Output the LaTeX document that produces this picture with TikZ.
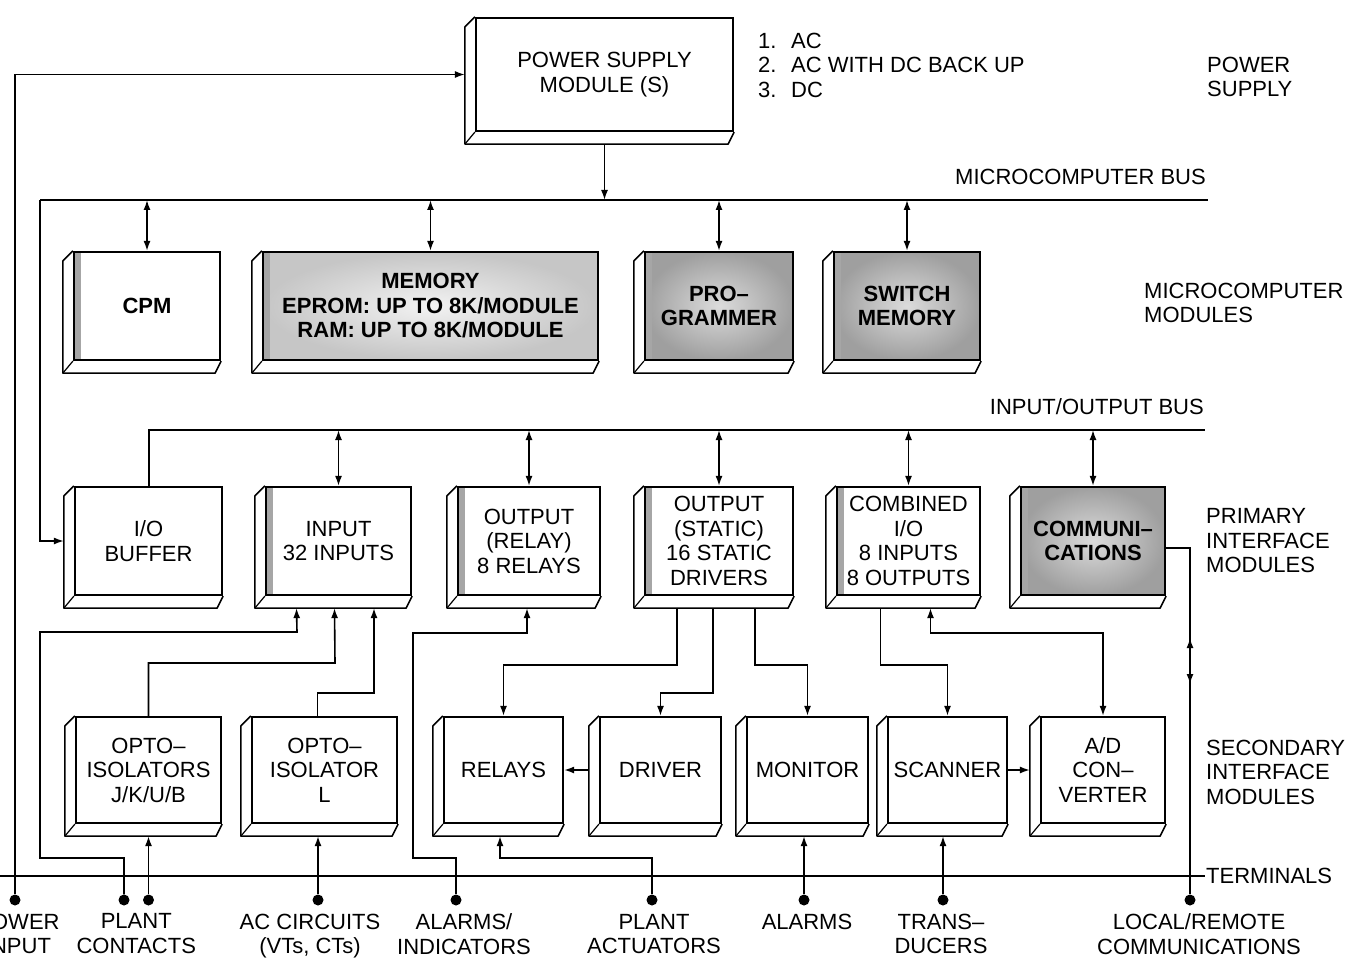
\documentclass[tikz,border=0pt]{standalone}
\usepackage{fontspec}
\setmainfont{Liberation Sans}
\usetikzlibrary{arrows.meta,calc,positioning}

\begin{document}
\begin{tikzpicture}[
    x=1pt, y=-1pt,
    >={Latex[length=10pt,width=7pt]},
    every node/.style={font=\fontsize{22}{24.5}\selectfont},
    slab/.style={rectangle, draw, line width=2.2pt, inner sep=0pt, align=center, fill=white},
    rowmc/.style={slab, minimum height=108pt, font=\fontsize{22}{24.5}\selectfont\bfseries},
    rowpi/.style={slab, minimum height=108pt},
    rowsi/.style={slab, minimum height=106pt},
    leftstrip/.style={path picture={\fill[gray!70] (path picture bounding box.south west) rectangle ([xshift=7pt]path picture bounding box.north west);}},
    shademid/.style={inner color=gray!10, outer color=gray!45},
    shadedark/.style={inner color=gray!28, outer color=gray!75},
    wire/.style={line width=1.6pt},
    bus/.style={line width=2pt},
    term/.style={circle, fill, inner sep=0pt, minimum size=11pt},
    lbl/.style={align=left, inner sep=1pt},
    tlbl/.style={align=center, inner sep=0pt}
  ]
    \useasboundingbox (0,0) rectangle (1355,960);

    % power supply
    \node[slab, minimum width=257pt, minimum height=113pt] (psm) at (604.5,74.5) {POWER SUPPLY\\MODULE (S)};

    % microcomputer modules
    \node[rowmc, leftstrip, minimum width=146pt] (cpm) at (147,306) {CPM};
    \node[rowmc, shademid, leftstrip, minimum width=335pt] (mem) at (430.5,306) {MEMORY\\EPROM: UP TO 8K/MODULE\\RAM: UP TO 8K/MODULE};
    \node[rowmc, shadedark, leftstrip, minimum width=148pt] (prog) at (719,306) {PRO--\\GRAMMER};
    \node[rowmc, shadedark, leftstrip, minimum width=146pt] (swm) at (907,306) {SWITCH\\MEMORY};

    % primary interface modules
    \node[rowpi, minimum width=147pt] (iob) at (148.5,541) {I/O\\BUFFER};
    \node[rowpi, leftstrip, minimum width=145pt] (inp) at (338.5,541) {INPUT\\32 INPUTS};
    \node[rowpi, leftstrip, minimum width=142pt] (outr) at (529,541) {OUTPUT\\(RELAY)\\8 RELAYS};
    \node[rowpi, leftstrip, minimum width=148pt] (outs) at (719,541) {OUTPUT\\(STATIC)\\16 STATIC\\DRIVERS};
    \node[rowpi, leftstrip, minimum width=143pt] (comb) at (908.5,541) {COMBINED\\I/O\\8 INPUTS\\8 OUTPUTS};
    \node[rowpi, shadedark, leftstrip, minimum width=144pt, font=\fontsize{22}{24.5}\selectfont\bfseries] (comm) at (1093,541) {COMMUNI--\\CATIONS};

    % secondary interface modules
    \node[rowsi, minimum width=145pt] (opto1) at (148.5,770) {OPTO--\\ISOLATORS\\J/K/U/B};
    \node[rowsi, minimum width=145pt] (opto2) at (324.5,770) {OPTO--\\ISOLATOR\\L};
    \node[rowsi, minimum width=119pt] (relays) at (503.5,770) {RELAYS};
    \node[rowsi, minimum width=121pt] (driver) at (660.5,770) {DRIVER};
    \node[rowsi, minimum width=121pt] (monitor) at (807.5,770) {MONITOR};
    \node[rowsi, minimum width=119pt] (scanner) at (947.5,770) {SCANNER};
    \node[rowsi, minimum width=124pt] (adc) at (1103,770) {A/D\\CON--\\VERTER};

    % slab bevels
    \foreach \n in {psm,cpm,mem,prog,swm,iob,inp,outr,outs,comb,comm,opto1,opto2,relays,driver,monitor,scanner,adc}{
      \draw[line width=1.6pt, line join=round] (\n.north west) -- ++(-10pt,-10pt) -- ($(\n.south west)+(-10pt,-12pt)$) -- ($(\n.south east)+(-6pt,-12pt)$) -- (\n.south east);
      \draw[line width=1.2pt] (\n.south west) -- ++(-10pt,-12pt);
    }

    % buses
    \coordinate (mb-l) at (40,200);
    \coordinate (mb-r) at (1208,200);
    \coordinate (iob-r) at (1205,430);
    \coordinate (tm-l) at (0,876);
    \coordinate (tm-r) at (1205,876);
    \draw[bus] (mb-l) -- (mb-r);
    \draw[bus] (iob.north) |- (iob-r);
    \draw[bus] (tm-l) -- (tm-r);
    \draw[wire, ->] (mb-l) |- ([xshift=-10pt]iob.west);
    \draw[wire, ->] ([yshift=-12pt]psm.south) -- (psm.south |- mb-l);
    \foreach \n in {cpm,mem,prog,swm}
      \draw[wire, <->] (\n.north |- mb-l) -- (\n.north);
    \foreach \n in {inp,outr,outs,comb,comm}
      \draw[wire, <->] (\n.north |- iob-r) -- (\n.north);

    % terminals
    \node[term] (t-pwr) at (15,900) {};
    \node[term] (t-pc1) at (124,900) {};
    \node[term] (t-pc2) at (148.5,900) {};
    \node[term] (t-ac) at (318,900) {};
    \node[term] (t-ai) at (456,900) {};
    \node[term] (t-pa) at (652,900) {};
    \node[term] (t-alm) at (804,900) {};
    \node[term] (t-trd) at (943,900) {};
    \node[term] (t-lrc) at (1190,900) {};

    % wiring
    \draw[wire, ->] (t-pwr) |- ([xshift=-10pt]psm.west);
    \draw[wire, ->] (t-pc1) |- (40,858) |- (297,632) -- ($(inp.south)+(-42pt,-12pt)$);
    \draw[wire, ->] (opto1.north) |- (335,663) -- ($(inp.south)+(-4pt,-12pt)$);
    \draw[wire, ->] ([xshift=-7pt]opto2.north) |- (374,693) -- ($(inp.south)+(35.5pt,-12pt)$);
    \draw[wire, ->] (t-pc2) -- ($(opto1.south)+(0pt,-12pt)$);
    \draw[wire, ->] (t-ac) -- ($(opto2.south)+(-6.5pt,-12pt)$);
    \draw[wire, ->] (t-ai) |- (413,858) |- (527,633) -- ($(outr.south)+(-2pt,-12pt)$);
    \draw[wire, ->] ($(outs.south)+(-42pt,-12pt)$) -- ++(0pt,-57pt) -| (relays.north);
    \draw[wire, ->] ($(outs.south)+(-6pt,-12pt)$) -- ++(0pt,-85pt) -| (driver.north);
    \draw[wire, ->] ($(outs.south)+(36pt,-12pt)$) -- ++(0pt,-57pt) -| (monitor.north);
    \draw[wire, ->] ($(comb.south)+(-28pt,-12pt)$) -- ++(0pt,-57pt) -| (scanner.north);
    \draw[wire, <->] ($(comb.south)+(22pt,-12pt)$) -- ++(0pt,-25pt) -| (adc.north);
    \draw[wire] ([yshift=-7pt]comm.east) -| (t-lrc);
    \coordinate (cm-a) at (1190,638);
    \coordinate (cm-b) at (1190,684);
    \draw[wire, <->] (cm-a) -- (cm-b);
    \draw[wire, ->] ([xshift=-10pt]driver.west) -- (relays.east);
    \draw[wire, ->] (scanner.east) -- ([xshift=-10pt]adc.west);
    \draw[wire, ->] (t-pa) |- (500,858) -- ($(relays.south)+(-3.5pt,-12pt)$);
    \draw[wire, ->] (t-alm) -- ($(monitor.south)+(-3.5pt,-12pt)$);
    \draw[wire, ->] (t-trd) -- ($(scanner.south)+(-4.5pt,-12pt)$);

    % side labels
    \node[lbl, anchor=west] (ps-list) at (757,65) {\makebox[33pt][l]{1.}AC\\\makebox[33pt][l]{2.}AC WITH DC BACK UP\\\makebox[33pt][l]{3.}DC};
    \node[lbl, anchor=west] (ps-lbl) at (1206,77) {POWER\\SUPPLY};
    \node[lbl, anchor=base east] (mb-lbl) at (1207,185) {MICROCOMPUTER BUS};
    \node[lbl, anchor=west] (mm-lbl) at (1143,303) {MICROCOMPUTER\\MODULES};
    \node[lbl, anchor=base east] (iob-lbl) at (1205,414) {INPUT/OUTPUT BUS};
    \node[lbl, anchor=west] (pim-lbl) at (1205,541) {PRIMARY\\INTERFACE\\MODULES};
    \node[lbl, anchor=west] (sim-lbl) at (1205,772) {SECONDARY\\INTERFACE\\MODULES};
    \node[lbl, anchor=west] (tm-lbl) at (tm-r) {TERMINALS};

    % terminal labels
    \coordinate (pc-mid) at ($(t-pc1)!0.5!(t-pc2)$);
    \node[tlbl, below=8pt of t-pwr, xshift=3pt] (l-pwr) {POWER\\INPUT};
    \node[tlbl, below=13.5pt of pc-mid] (l-pc) {PLANT\\CONTACTS};
    \node[tlbl, below=8pt of t-ac, xshift=-8pt] (l-ac) {AC CIRCUITS\\(VTs, CTs)};
    \node[tlbl, below=8pt of t-ai, xshift=8pt] (l-ai) {ALARMS/\\INDICATORS};
    \node[tlbl, below=8pt of t-pa, xshift=2pt] (l-pa) {PLANT\\ACTUATORS};
    \node[tlbl, below=8pt of t-alm, xshift=3pt] (l-alm) {ALARMS};
    \node[tlbl, below=8pt of t-trd, xshift=-2pt] (l-trd) {TRANS--\\DUCERS};
    \node[tlbl, below=8pt of t-lrc, xshift=9pt] (l-lrc) {LOCAL/REMOTE\\COMMUNICATIONS};
  \end{tikzpicture}
\end{document}
